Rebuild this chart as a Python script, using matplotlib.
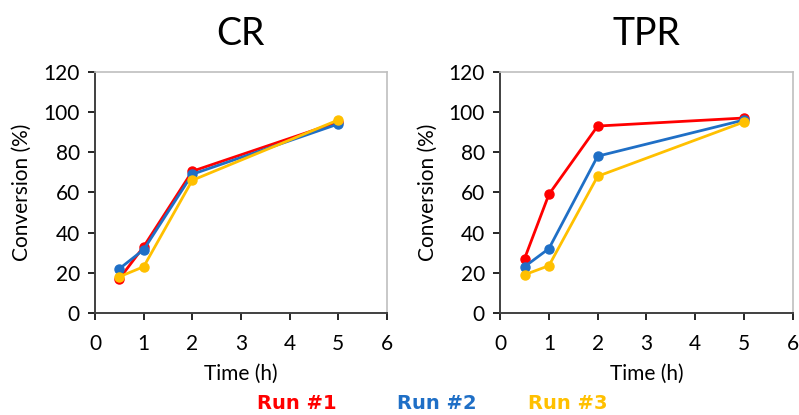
import matplotlib
matplotlib.use("Agg")
import matplotlib.pyplot as plt

time_h = [0.5, 1, 2, 5]

# CR runs
cr_run1 = [17, 33, 70.5, 95]
cr_run2 = [22, 31.5, 69, 94]
cr_run3 = [18, 23, 66, 96]

# TPR runs
tpr_run1 = [27, 59, 93, 97]
tpr_run2 = [23, 32, 78, 96]
tpr_run3 = [19, 23.5, 68, 95]

run_labels = ["Run #1", "Run #2", "Run #3"]
colors = ["#FF0000", "#1F6FC6", "#FFC000"]

plt.rcParams['font.family'] = ['Lato', 'DejaVu Sans']

fig = plt.figure(figsize=(7.99, 4.15), dpi=100)
ax1 = fig.add_axes([0.119, 0.246, 0.365, 0.581])
ax2 = fig.add_axes([0.626, 0.246, 0.366, 0.581])

panels = [(ax1, "CR", [cr_run1, cr_run2, cr_run3]),
          (ax2, "TPR", [tpr_run1, tpr_run2, tpr_run3])]

for ax, title, runs in panels:
    for vals, c in zip(runs, colors):
        ax.plot(time_h, vals, '-o', color=c, lw=2, ms=6.5)
    ax.set_xlim(0, 6)
    ax.set_ylim(0, 120)
    ax.set_xticks(range(0, 7))
    ax.set_yticks(range(0, 121, 20))
    ax.tick_params(labelsize=15, length=5, width=1.2, direction='out')
    ax.tick_params(axis='x', pad=10)
    ax.tick_params(axis='y', pad=6)
    ax.set_xlabel("Time (h)", fontsize=15, labelpad=7)
    ax.set_ylabel("Conversion (%)", fontsize=15, labelpad=8)
    ax.set_title(title, fontsize=27, pad=19)
    for s in ['top', 'right']:
        ax.spines[s].set_color('#BFBFBF')
        ax.spines[s].set_linewidth(1.2)
    for s in ['left', 'bottom']:
        ax.spines[s].set_color('#404040')
        ax.spines[s].set_linewidth(1.4)

legend_x = [0.372, 0.547, 0.710]
for lbl, c, x in zip(run_labels, colors, legend_x):
    fig.text(x, 0.027, lbl, color=c, fontsize=14, fontweight='bold',
             ha='center', va='center', family=['DejaVu Sans'])

fig.savefig("out.png", dpi=100)
